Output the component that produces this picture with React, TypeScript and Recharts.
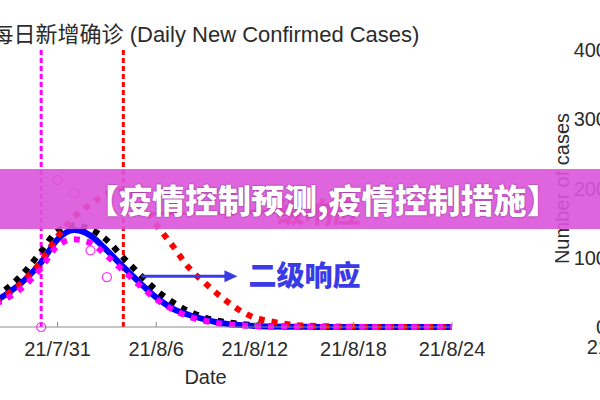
import {
  ComposedChart,
  Line,
  Scatter,
  XAxis,
  YAxis,
  ReferenceLine,
  ReferenceDot
} from 'recharts';

// days counted from 21/7/31
const days = [-6, -5, -4, -3, -2, -1, 0, 1, 2, 3, 4, 5, 6, 7, 8, 9, 10, 11, 12, 13, 14, 15, 16, 17, 18, 19, 20, 21, 22, 23, 24];
const fitted = [13, 18, 26, 37, 51, 70, 95, 105, 99, 83, 65, 48, 32, 20, 13, 8, 4, 2.3, 1.2, 0.6, 0.3, 0.2, 0.1, 0, 0, 0, 0, 0, 0, 0, 0];
const reported = [15, 21, 30, 43, 60, 82, 104, 110, 106, 94, 75, 57, 40, 27, 17, 10, 6, 3.5, 2, 1, 0.5, 0.3, 0.2, 0, 0, 0, 0, 0, 0, 0, 0];
const level1 = [13, 18, 25, 36, 51, 71, 98, 119, 133, 144, 148, 136, 111, 88, 64, 47, 32, 19, 10, 6, 3, 1.5, 1, 0.5, 0.2, 0, 0, 0, 0, 0, 0];
const level2 = [11, 16, 23, 32, 45, 64, 88, 95, 91, 77, 61, 45, 30, 19, 11, 6.5, 3.5, 2, 1, 0.5, 0.3, 0, 0, 0, 0, 0, 0, 0, 0, 0, 0];

const obsDays = [-1, 0, 1, 2, 3];
const obsCases = [0, 159, 145, 83, 54];

const tickDays = [-6, 0, 6, 12, 18, 24];
const tickLabels = ['21/7/25', '21/7/31', '21/8/6', '21/8/12', '21/8/18', '21/8/24'];
const caseTicks = [0, 50, 100, 150, 200, 250, 300];
const rightTicks = [0, 100, 200, 300, 400];

const data = days.map((d, i) => ({
  day: d,
  fitted: fitted[i],
  reported: reported[i],
  level1: level1[i],
  level2: level2[i]
}));
const obs = obsDays.map((d, i) => ({ day: d, cases: obsCases[i] }));

const axisGray = '#8c8c8c';
const textColor = '#2b2b2b';
const latin = '"Liberation Sans", Arial, "Noto Sans CJK SC", sans-serif';

const dateLabel = (v: number) => tickLabels[tickDays.indexOf(v)] ?? '';

const BottomTick = (props: any) => {
  const { x, y, payload } = props;
  return (
    <g>
      <line x1={x} y1={y} x2={x} y2={y - 5} stroke={axisGray} />
      <text x={x} y={y + 29} textAnchor="middle" fontSize={20} fill={textColor} fontFamily={latin}>
        {dateLabel(payload.value)}
      </text>
    </g>
  );
};

const TopTick = (props: any) => {
  const { x, y } = props;
  return <line x1={x} y1={y} x2={x} y2={y + 5} stroke={axisGray} />;
};

const RightTick = (props: any) => {
  const { x, y } = props;
  return <line x1={x} y1={y} x2={x - 5} y2={y} stroke={axisGray} />;
};

const Arrow = ({ cx, cy, color, text }: any) => (
  <g>
    <line x1={cx} y1={cy} x2={cx + 86} y2={cy} stroke={color} strokeWidth={3} />
    <polygon points={`${cx + 96},${cy} ${cx + 83},${cy - 6} ${cx + 83},${cy + 6}`} fill={color} />
    <text
      x={cx + 107}
      y={cy + 10}
      fontSize={28}
      fontWeight={900}
      fill={color}
      fontFamily='"Noto Sans CJK SC", sans-serif'
    >
      {text}
    </text>
  </g>
);

export default function App() {
  return (
    <div
      style={{
        position: 'absolute',
        left: 0,
        top: 0,
        width: 600,
        height: 400,
        overflow: 'hidden',
        background: '#fff'
      }}
    >
      <div
        style={{
          position: 'absolute',
          left: -41,
          top: 22,
          width: 493,
          textAlign: 'center',
          fontSize: 22,
          lineHeight: '26px',
          color: textColor,
          fontFamily: latin,
          whiteSpace: 'nowrap'
        }}
      >
        每日新增确诊 (Daily New Confirmed Cases)
      </div>

      <ComposedChart
        width={620}
        height={400}
        data={data}
        margin={{ top: 50, right: 67, bottom: 0, left: 0 }}
        style={{ position: 'absolute', left: -101, top: 0 }}
      >
        <XAxis
          dataKey="day"
          type="number"
          domain={[-6, 24]}
          ticks={tickDays}
          interval={0}
          height={73}
          tickSize={0}
          tickMargin={0}
          tickLine={false}
          axisLine={{ stroke: axisGray }}
          tick={<BottomTick />}
          allowDataOverflow
          label={{ value: 'Date', position: 'insideBottom', offset: 16, fontSize: 20, fill: textColor, fontFamily: latin }}
        />
        <XAxis
          xAxisId="top"
          dataKey="day"
          type="number"
          orientation="top"
          domain={[-6, 24]}
          ticks={tickDays}
          interval={0}
          height={0}
          tickSize={0}
          tickMargin={0}
          tickLine={false}
          axisLine={{ stroke: axisGray }}
          tick={<TopTick />}
        />
        <YAxis
          type="number"
          domain={[0, 300]}
          ticks={caseTicks}
          width={60}
          tickLine={false}
          axisLine={{ stroke: axisGray }}
          tick={{ fontSize: 19, fill: textColor }}
        />
        <YAxis
          yAxisId="right"
          orientation="right"
          type="number"
          domain={[0, 300]}
          ticks={caseTicks}
          interval={0}
          width={0}
          tickSize={0}
          tickMargin={0}
          tickLine={false}
          axisLine={{ stroke: axisGray }}
          tick={<RightTick />}
        />

        <ReferenceLine x={-1} stroke="#ff00ff" strokeWidth={3} strokeDasharray="5 3" />
        <ReferenceLine x={4} stroke="#ff0000" strokeWidth={3} strokeDasharray="5 3" />

        <Line
          dataKey="reported"
          type="monotone"
          stroke="#000000"
          strokeWidth={6}
          strokeDasharray="6 7"
          dot={false}
          isAnimationActive={false}
        />
        <Line
          dataKey="fitted"
          type="monotone"
          stroke="#0000ff"
          strokeWidth={6}
          dot={false}
          isAnimationActive={false}
        />
        <Line
          dataKey="level1"
          type="monotone"
          stroke="#ff0000"
          strokeWidth={6}
          strokeDasharray="6 7"
          dot={false}
          isAnimationActive={false}
        />
        <Line
          dataKey="level2"
          type="monotone"
          stroke="#ff00ff"
          strokeWidth={6}
          strokeDasharray="6 7"
          dot={false}
          isAnimationActive={false}
        />
        <Scatter
          data={obs}
          dataKey="cases"
          fill="none"
          stroke="#ff33ff"
          strokeWidth={1.2}
          shape="circle"
          isAnimationActive={false}
        />

        <ReferenceDot
          x={5.1}
          y={123}
          r={0}
          ifOverflow="visible"
          shape={(p: any) => <Arrow cx={p.cx} cy={p.cy} color="#ff1a1a" text="一级响应" />}
        />
        <ReferenceDot
          x={5.1}
          y={55}
          r={0}
          ifOverflow="visible"
          shape={(p: any) => <Arrow cx={p.cx} cy={p.cy} color="#3a3ae6" text="二级响应" />}
        />
      </ComposedChart>

      <ComposedChart
        width={600}
        height={400}
        data={data}
        margin={{ top: 50, right: 20, bottom: 0, left: 0 }}
        style={{ position: 'absolute', left: 555, top: 0 }}
      >
        <XAxis
          dataKey="day"
          type="number"
          domain={[-6, 24]}
          ticks={tickDays}
          interval={0}
          tickFormatter={dateLabel}
          height={73}
          tickSize={0}
          tickMargin={13}
          axisLine={{ stroke: axisGray }}
          tick={{ fontSize: 20, fill: textColor, fontFamily: latin }}
        />
        <YAxis
          type="number"
          domain={[0, 400]}
          ticks={rightTicks}
          interval={0}
          width={65}
          tickSize={0}
          tickMargin={13}
          axisLine={{ stroke: axisGray }}
          tick={{ fontSize: 20, fill: textColor, fontFamily: latin }}
          label={{
            content: (p: any) => {
              const vb = p.viewBox;
              const cx = vb.x + 7;
              const cy = vb.y + vb.height / 2;
              return (
                <text
                  x={cx}
                  y={cy}
                  transform={`rotate(-90 ${cx} ${cy})`}
                  textAnchor="middle"
                  dominantBaseline="central"
                  fontSize={20}
                  fill={textColor}
                  fontFamily={latin}
                >
                  Number of cases
                </text>
              );
            }
          }}
        />
        <Line
          dataKey="reported"
          type="monotone"
          stroke="#000000"
          strokeWidth={2}
          dot={false}
          isAnimationActive={false}
        />
      </ComposedChart>

      <div
        style={{
          position: 'absolute',
          left: 0,
          top: 169,
          width: 600,
          height: 60,
          background: 'rgba(219, 84, 219, 0.9)'
        }}
      >
        <span
          style={{
            position: 'absolute',
            left: 86,
            top: 0,
            lineHeight: '60px',
            fontSize: 33,
            fontWeight: 900,
            color: '#ffffff',
            fontFamily: '"Noto Sans CJK SC", sans-serif',
            whiteSpace: 'nowrap',
            textShadow: '0 0 2px rgba(90, 0, 90, 0.7)'
          }}
        >
          【疫情控制预测,疫情控制措施】
        </span>
      </div>
    </div>
  );
}
